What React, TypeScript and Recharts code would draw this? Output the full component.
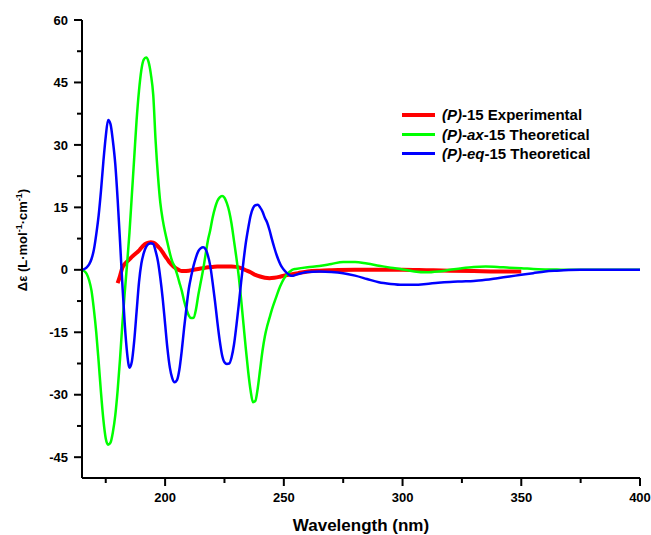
import { LineChart, Line, XAxis, YAxis, Legend, Label } from 'recharts'

// wavelengths (nm) and Δε values
const expWl = [
  180, 181, 182, 183, 184, 185, 186, 187, 188, 189, 190, 191, 192, 193, 194, 195, 196, 197, 198, 199, 200,
  201, 202, 203, 204, 205, 206, 207, 208, 210, 212, 214, 216, 218, 220, 222, 225, 228, 230, 232, 234, 236,
  238, 240, 242, 244, 246, 248, 250, 253, 256, 260, 265, 270, 280, 290, 300, 310, 320, 330, 340, 350,
]
const expDe = [
  -3.2, -1.5, 0.5, 1.4, 2, 2.5, 3.1, 3.6, 4.1, 4.6, 5.3, 5.9, 6.3, 6.5, 6.6, 6.5, 6.2, 5.6, 5, 4.2, 3.3,
  2.5, 1.7, 1.1, 0.6, 0.2, -0.1, -0.3, -0.3, -0.2, 0, 0.2, 0.4, 0.6, 0.7, 0.8, 0.8, 0.8, 0.7, 0.4, -0.1, -0.6,
  -1.2, -1.6, -1.9, -2, -1.9, -1.7, -1.4, -1.1, -0.8, -0.4, -0.2, -0.1, 0, 0, 0, -0.1, -0.2, -0.3, -0.4, -0.4,
]

const thWl = [
  165, 166, 167, 168, 169, 170, 171, 172, 173, 174, 175, 176, 177, 178, 179, 180, 181, 182, 183, 184,
  185, 186, 187, 188, 189, 190, 191, 192, 193, 194, 195, 196, 197, 198, 199, 200, 201, 202, 203, 204,
  205, 206, 207, 208, 209, 210, 211, 212, 213, 214, 215, 216, 217, 218, 219, 220, 221, 222, 223, 224,
  225, 226, 227, 228, 229, 230, 231, 232, 233, 234, 235, 236, 237, 238, 239, 240, 241, 242, 243, 244,
  245, 246, 247, 248, 249, 250, 251, 252, 253, 254, 255,
  260, 265, 270, 275, 280, 285, 290, 295, 300, 305, 310, 315, 320, 325, 330, 335, 340, 345, 350, 355,
  360, 365, 370, 375, 380, 385, 390, 395, 400,
]
const axDe = [
  0, -0.3, -1, -2.5, -5, -9.5, -15, -22, -29.5, -36, -40.5, -42, -41.5, -39, -35, -29, -21.5, -13, -5.5, 1.5,
  9, 18, 27, 36, 43, 48, 50.5, 51, 50, 47, 42, 31, 22.5, 16, 12, 9, 6.5, 4, 2, 0.8,
  -1, -3, -5, -7.5, -9.5, -11, -11.6, -11.5, -9.5, -6, -3, 0, 3.5, 7, 9.5, 12.5, 14.8, 16.5, 17.4, 17.7,
  17.3, 16, 14, 11, 7, 3, -1.5, -7, -13, -19, -24.5, -29, -31.8, -31.5, -28.5, -24, -19.5, -16, -13.5, -11.5,
  -9.5, -7.8, -6.2, -4.6, -3.3, -2.2, -1.3, -0.7, -0.2, 0.1, 0.2,
  0.6, 0.9, 1.4, 1.9, 1.9, 1.5, 1, 0.5, 0.1, -0.4, -0.6, -0.4, 0, 0.4, 0.7, 0.8, 0.7, 0.5, 0.4, 0.2,
  0.1, 0.05, 0, 0, 0, 0, 0, 0, 0,
]
const eqDe = [
  0, 0.2, 0.6, 1.3, 2.6, 4.8, 8.5, 13, 19, 26, 32, 36, 35, 31, 25.5, 17, 7, -3.5, -13, -20,
  -23.5, -22, -17, -10, -3, 1.5, 4, 5.5, 6.2, 6.4, 6.2, 4.5, 2, -2, -7, -13, -19, -23.5, -26, -27,
  -26.5, -24, -19.5, -14, -9, -4.5, -1.5, 1, 3, 4.5, 5.2, 5.4, 5, 3.5, 1, -3, -7.5, -12.5, -17, -20.5,
  -22.2, -22.6, -22.5, -21, -18, -13.5, -8.5, -3, 2, 6.5, 10, 13, 14.8, 15.5, 15.6, 15, 14, 12.5, 11.3, 9.5,
  7.3, 5.3, 3.5, 2, 0.8, 0, -0.6, -1.1, -1.4, -1.4, -1.2,
  -0.5, -0.4, -0.5, -0.8, -1.4, -2.2, -3, -3.4, -3.6, -3.6, -3.4, -3.1, -2.9, -2.8, -2.7, -2.4, -2, -1.6, -1.2, -0.8,
  -0.4, -0.2, -0.05, 0, 0, 0, 0, 0, 0,
]

const xTicks = [175, 200, 225, 250, 275, 300, 325, 350, 375, 400]
const xMajor = [200, 250, 300, 350, 400]
const yTicks = [-45, -37.5, -30, -22.5, -15, -7.5, 0, 7.5, 15, 22.5, 30, 37.5, 45, 52.5, 60]
const yMajor = [-45, -30, -15, 0, 15, 30, 45, 60]

const FONT = "'Liberation Sans', Arial, sans-serif"

const series = [
  { key: 'exp', color: '#ff0000', width: 4, pre: '(P)', mid: '', rest: '-15 Experimental' },
  { key: 'ax', color: '#00ff00', width: 3, pre: '(P)', mid: 'ax', rest: '-15 Theoretical' },
  { key: 'eq', color: '#0000ff', width: 3, pre: '(P)', mid: 'eq', rest: '-15 Theoretical' },
]

const expData = expWl.map((x, i) => ({ x, y: expDe[i] }))
const axData = thWl.map((x, i) => ({ x, y: axDe[i] }))
const eqData = thWl.map((x, i) => ({ x, y: eqDe[i] }))

function YTick({ x, y, payload }: any) {
  const major = yMajor.includes(payload.value)
  return (
    <g>
      <line x1={x - (major ? 8 : 5)} x2={x} y1={y} y2={y} stroke="#000" strokeWidth={2} />
      {major && (
        <text x={x - 14} y={y + 4.6} textAnchor="end" fontSize={13} fontWeight="bold" fontFamily={FONT} fill="#000">
          {payload.value}
        </text>
      )}
    </g>
  )
}

function XTick({ x, y, payload }: any) {
  const major = xMajor.includes(payload.value)
  return (
    <g>
      <line x1={x} x2={x} y1={y} y2={y + (major ? 8 : 5)} stroke="#000" strokeWidth={2} />
      {major && (
        <text x={x} y={y + 24} textAnchor="middle" fontSize={13} fontWeight="bold" fontFamily={FONT} fill="#000">
          {payload.value}
        </text>
      )}
    </g>
  )
}

function YTitle() {
  return (
    <text
      x={19}
      y={232}
      transform="rotate(-90, 19, 232)"
      textAnchor="middle"
      fontSize={13}
      fontWeight="bold"
      fontFamily={FONT}
      fill="#000"
    >
      <tspan>Δε (L·mol</tspan>
      <tspan fontSize={9} dy={-5}>-1</tspan>
      <tspan dy={5}>·cm</tspan>
      <tspan fontSize={9} dy={-5}>-1</tspan>
      <tspan dy={5}>)</tspan>
    </text>
  )
}

function XTitle() {
  return (
    <text x={353} y={523} textAnchor="middle" fontSize={17} fontWeight="bold" fontFamily={FONT} fill="#000">
      Wavelength (nm)
    </text>
  )
}

function LegendBox() {
  return (
    <div style={{ fontFamily: FONT, fontWeight: 'bold', fontSize: 15, color: '#000' }}>
      {series.map((s) => (
        <div key={s.key} style={{ display: 'flex', alignItems: 'center', height: 19.5, whiteSpace: 'nowrap' }}>
          <span style={{ width: 33, height: s.width, background: s.color, marginRight: 7 }} />
          <span>
            <i>{s.pre}</i>
            {s.mid && (
              <>
                -<i>{s.mid}</i>
              </>
            )}
            {s.rest}
          </span>
        </div>
      ))}
    </div>
  )
}

export default function App() {
  return (
    <div style={{ position: 'absolute', left: 8, top: 8, width: 643, height: 527, overflow: 'visible' }}>
      <style>{'html, body { overflow: hidden; }'}</style>
      <LineChart width={643} height={527} margin={{ top: 12, right: 11, bottom: 0, left: 0 }} style={{ overflow: 'visible' }}>
        <XAxis
          dataKey="x"
          type="number"
          domain={[165, 400]}
          ticks={xTicks}
          interval={0}
          allowDataOverflow
          height={57}
          tickSize={0}
          tickMargin={0}
          tickLine={false}
          axisLine={{ stroke: '#000', strokeWidth: 2 }}
          tick={<XTick />}
        >
          <Label content={<XTitle />} />
        </XAxis>
        <YAxis
          type="number"
          domain={[-50, 60]}
          ticks={yTicks}
          interval={0}
          allowDataOverflow
          width={74}
          tickSize={0}
          tickMargin={0}
          tickLine={false}
          axisLine={{ stroke: '#000', strokeWidth: 2 }}
          tick={<YTick />}
        >
          <Label content={<YTitle />} />
        </YAxis>
        <Legend
          layout="vertical"
          align="center"
          verticalAlign="middle"
          wrapperStyle={{ position: 'absolute', left: 394, top: 97, width: 240 }}
          content={() => <LegendBox />}
        />
        <Line data={expData} dataKey="y" type="monotone" stroke="#ff0000" strokeWidth={4} dot={false} isAnimationActive={false} />
        <Line data={axData} dataKey="y" type="monotone" stroke="#00ff00" strokeWidth={2.5} dot={false} isAnimationActive={false} />
        <Line data={eqData} dataKey="y" type="monotone" stroke="#0000ff" strokeWidth={2.5} dot={false} isAnimationActive={false} />
      </LineChart>
    </div>
  )
}
